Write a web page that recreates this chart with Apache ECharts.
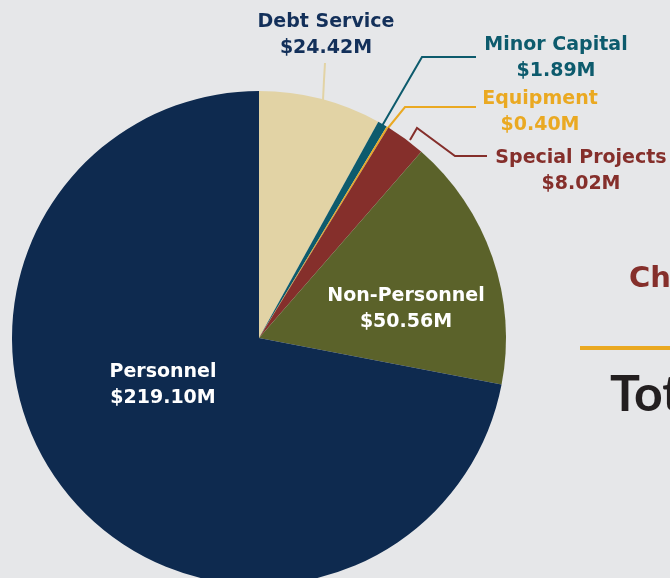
<!DOCTYPE html>
<html>
<head>
<meta charset="utf-8">
<script src="https://cdn.jsdelivr.net/npm/echarts@6/dist/echarts.min.js"></script>
<style>
html, body { margin: 0; padding: 0; background: #e6e7e9; }
#main { width: 670px; height: 578px; }
</style>
</head>
<body>
<div id="main"></div>
<script>
// 数据
var categories = ['Debt Service', 'Minor Capital', 'Equipment', 'Special Projects', 'Non-Personnel', 'Personnel'];
var values = [24.42, 1.89, 0.40, 8.02, 50.56, 219.10];
var sliceColors = ['#e2d3a5', '#0d5b6d', '#eaa922', '#852f2b', '#5b622a', '#0e2a4f'];
var textColors = ['#13305a', '#0d5b6d', '#eaa922', '#852f2b', '#ffffff', '#ffffff'];

// label placement (pixels)
var labelSpots = [[326, 35], [556, 58], [540, 112], [581, 171], [406, 309], [163, 385]];
var labelLines = [
    [[323, 100], [324, 80], [325, 63]],
    [[382, 126], [422, 57], [476, 57]],
    [[388, 128], [405, 107], [476, 107]],
    [[410, 140], [417, 128], [455, 156], [487, 156]],
    null,
    null
];

var myChart = echarts.init(document.getElementById('main'));

var pieData = [];
for (var i = 0; i < categories.length; i++) {
    var inside = labelLines[i] === null;
    pieData.push({
        name: categories[i],
        value: values[i],
        itemStyle: { color: sliceColors[i] },
        label: {
            position: inside ? 'inside' : 'outside',
            color: textColors[i]
        },
        labelLine: {
            show: !inside,
            lineStyle: { color: sliceColors[i], width: 2 }
        }
    });
}

var option = {
    backgroundColor: '#e6e7e9',
    animation: false,
    series: [{
        type: 'pie',
        center: [259, 338],
        radius: 247,
        startAngle: 90,
        clockwise: true,
        silent: true,
        avoidLabelOverlap: false,
        label: {
            show: true,
            fontFamily: 'DejaVu Sans',
            fontWeight: 'bold',
            fontSize: 19,
            lineHeight: 26,
            align: 'center',
            formatter: function (p) {
                return p.name + '\n$' + p.value.toFixed(2) + 'M';
            }
        },
        labelLayout: function (params) {
            var i = params.dataIndex;
            var res = {
                x: labelSpots[i][0],
                y: labelSpots[i][1],
                align: 'center',
                verticalAlign: 'middle'
            };
            if (labelLines[i]) res.labelLinePoints = labelLines[i];
            return res;
        },
        data: pieData
    }],
    graphic: [
        {
            type: 'text', x: 629, y: 279,
            style: { text: 'Change', fill: '#852f2b', font: 'bold 29px "DejaVu Sans"', verticalAlign: 'middle' }
        },
        {
            type: 'rect', shape: { x: 580, y: 346, width: 100, height: 4 },
            style: { fill: '#eaa922' }
        },
        {
            type: 'text', x: 610, y: 395,
            style: { text: 'Total', fill: '#231f20', font: 'bold 50px Lato', verticalAlign: 'middle' }
        }
    ]
};

myChart.setOption(option);
</script>
</body>
</html>
